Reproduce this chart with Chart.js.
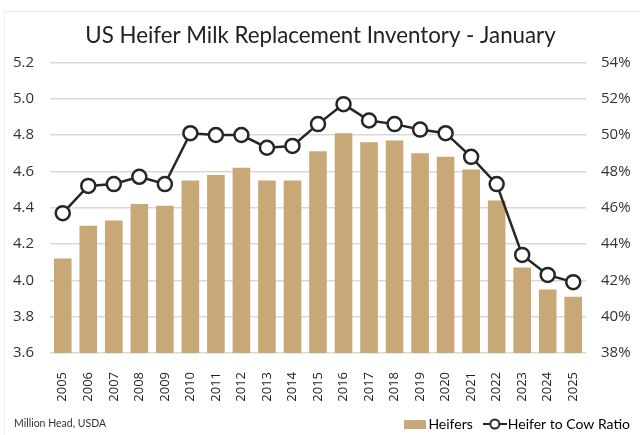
<!DOCTYPE html>
<html>
<head>
<meta charset="utf-8">
<script src="https://cdn.jsdelivr.net/npm/chart.js@4.4.1/dist/chart.umd.min.js"></script>
<style>
html,body{margin:0;padding:0;background:#fff;}
#wrap{position:relative;width:640px;height:435px;}
#frame{position:absolute;left:4px;top:11px;width:636px;height:424px;border-left:1px solid #f0f0f0;border-top:1px solid #eeeeee;box-sizing:border-box;pointer-events:none;}
canvas{display:block;}
</style>
</head>
<body>
<div id="wrap">
<canvas id="c" width="640" height="435"></canvas>
<div id="frame"></div>
</div>
<script>
const years = ["2005","2006","2007","2008","2009","2010","2011","2012","2013","2014","2015","2016","2017","2018","2019","2020","2021","2022","2023","2024","2025"];
const heifers = [4.12,4.30,4.33,4.42,4.41,4.55,4.58,4.62,4.55,4.55,4.71,4.81,4.76,4.77,4.70,4.68,4.61,4.44,4.07,3.95,3.91];
const heiferCowRatio = [45.7,47.2,47.3,47.7,47.3,50.1,50.0,50.0,49.3,49.4,50.6,51.7,50.8,50.6,50.3,50.1,48.8,47.3,43.4,42.3,41.9];
const titleText = "US Heifer Milk Replacement Inventory - January";
const sourceText = "Million Head, USDA";

const barColor = "#C8A877";
const lineColor = "#262626";

function makeImg(w, h, drawFn){
  const cv = document.createElement('canvas');
  cv.width = w; cv.height = h;
  const g = cv.getContext('2d');
  drawFn(g);
  return cv;
}
const barIcon = makeImg(22, 9, g => { g.fillStyle = barColor; g.fillRect(0,0,22,9); });
const lineIcon = makeImg(24, 14, g => {
  g.strokeStyle = lineColor; g.lineWidth = 2;
  g.beginPath(); g.moveTo(0,7); g.lineTo(24,7); g.stroke();
  g.fillStyle = '#fff';
  g.beginPath(); g.arc(12,7,4.5,0,Math.PI*2); g.fill(); g.stroke();
});

const legendShiftPlugin = {
  id: 'legendShift',
  afterLayout(chart){
    if (chart.legend) { chart.legend.right += 9; }
  }
};

const footerPlugin = {
  id: 'footerText',
  afterDraw(chart){
    const ctx = chart.ctx;
    const lg = chart.legend;
    const y = lg ? lg.top + 16 + 7 : 424;
    ctx.save();
    ctx.font = "10.5px Lato";
    ctx.fillStyle = "#333";
    ctx.textBaseline = "middle";
    ctx.textAlign = "left";
    ctx.fillText(sourceText, 14, y);
    ctx.restore();
  }
};

new Chart(document.getElementById('c'), {
  data: {
    labels: years,
    datasets: [
      {
        type: 'line',
        label: 'Heifer to Cow Ratio',
        data: heiferCowRatio,
        yAxisID: 'y2',
        borderColor: lineColor,
        borderWidth: 2.5,
        pointRadius: 7,
        pointBorderWidth: 2.5,
        pointBackgroundColor: '#fff',
        pointBorderColor: lineColor,
        tension: 0,
        order: 0
      },
      {
        type: 'bar',
        label: 'Heifers',
        data: heifers,
        yAxisID: 'y',
        backgroundColor: barColor,
        barPercentage: 0.69,
        categoryPercentage: 1.0,
        order: 1
      }
    ]
  },
  options: {
    responsive: false,
    animation: false,
    layout: { padding: { top: 22, left: 4, right: 3, bottom: -6 } },
    plugins: {
      title: {
        display: true,
        text: titleText,
        font: { family: "Lato", size: 22.3, weight: 'normal' },
        color: '#222',
        padding: { top: 0, bottom: 13.6 }
      },
      legend: {
        display: true,
        position: 'bottom',
        align: 'end',
        labels: {
          usePointStyle: true,
          pointStyleWidth: 12,
          boxHeight: 14,
          padding: 16,
          color: '#333',
          font: { family: "Lato", size: 14 },
          generateLabels(chart){
            return [
              { text: 'Heifers', pointStyle: barIcon, fillStyle: barColor, strokeStyle: barColor, lineWidth: 0, datasetIndex: 1, hidden: false },
              { text: 'Heifer to Cow Ratio', pointStyle: lineIcon, fillStyle: '#fff', strokeStyle: lineColor, lineWidth: 0, datasetIndex: 0, hidden: false }
            ];
          }
        }
      },
      tooltip: { enabled: false }
    },
    scales: {
      x: {
        grid: { display: false },
        border: { display: false },
        ticks: {
          minRotation: 90, maxRotation: 90, autoSkip: false,
          padding: 11,
          color: '#222',
          font: { family: "Open Sans", size: 13 }
        },
        afterFit(scale){ scale.height = 48; }
      },
      y: {
        position: 'left',
        min: 3.6, max: 5.2,
        grid: { color: '#d9d9d9', lineWidth: 1.5, drawTicks: false },
        border: { display: false },
        ticks: {
          stepSize: 0.2,
          padding: 16,
          color: '#333',
          font: { family: "Open Sans", size: 15 },
          callback: v => Number(v).toFixed(1)
        },
        afterFit(scale){ scale.width = 46; }
      },
      y2: {
        position: 'right',
        min: 38, max: 54,
        grid: { drawOnChartArea: false, drawTicks: false },
        border: { display: false },
        ticks: {
          stepSize: 2,
          padding: 15,
          color: '#333',
          font: { family: "Open Sans", size: 15 },
          callback: v => v + '%'
        },
        afterFit(scale){ scale.width = 51; }
      }
    }
  },
  plugins: [legendShiftPlugin, footerPlugin]
});
</script>
</body>
</html>
